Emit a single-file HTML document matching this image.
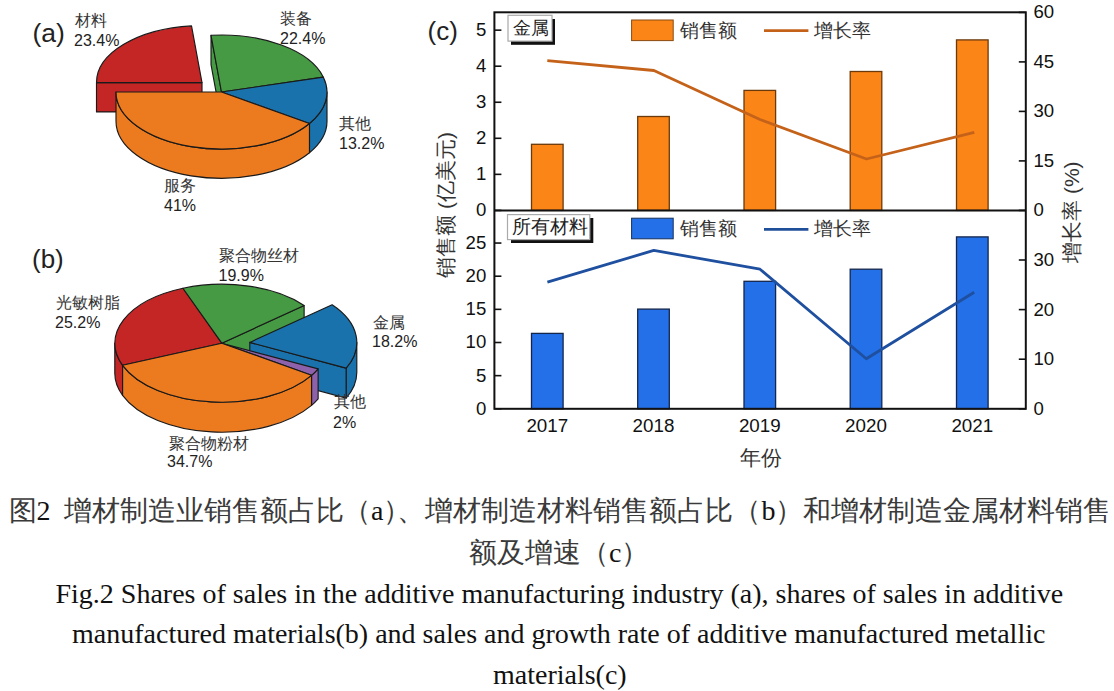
<!DOCTYPE html>
<html><head><meta charset="utf-8"><style>
html,body{margin:0;padding:0;background:#fff;width:1114px;height:691px;overflow:hidden}
svg{position:absolute;left:0;top:0;font-family:"Liberation Sans",sans-serif}
.cap{position:absolute;left:0;width:1114px;font-family:"Liberation Serif",serif;color:#111;white-space:nowrap}
</style></head><body>
<svg width="1114" height="691" viewBox="0 0 1114 691">
<path d="M202.00,82.60 L96.50,82.60 L96.50,111.90 L202.00,111.90 Z" fill="#C42626" stroke="#1a1a1a" stroke-width="1.15" stroke-linejoin="round"/>
<path d="M202.00,82.60 L96.50,82.60 A105.5,57 0 0 1 191.52,25.88 Z" fill="#C42626" stroke="#1a1a1a" stroke-width="1.15" stroke-linejoin="round"/>
<path d="M221.50,92.00 L211.02,35.28 L211.02,64.58 L221.50,121.30 Z" fill="#459A43" stroke="#1a1a1a" stroke-width="1.15" stroke-linejoin="round"/>
<path d="M221.50,92.00 L211.02,35.28 A105.5,57 0 0 1 323.36,77.15 Z" fill="#459A43" stroke="#1a1a1a" stroke-width="1.15" stroke-linejoin="round"/>
<path d="M327.00,92.00 A105.5,57 0 0 1 309.47,123.46 L309.47,152.76 A105.5,57 0 0 0 327.00,121.30 Z" fill="#1A72AD" stroke="#1a1a1a" stroke-width="1.15" stroke-linejoin="round"/>
<path d="M221.50,92.00 L323.36,77.15 A105.5,57 0 0 1 309.47,123.46 Z" fill="#1A72AD" stroke="#1a1a1a" stroke-width="1.15" stroke-linejoin="round"/>
<path d="M309.47,123.46 A105.5,57 0 0 1 116.00,92.00 L116.00,121.30 A105.5,57 0 0 0 309.47,152.76 Z" fill="#EC7A1F" stroke="#1a1a1a" stroke-width="1.15" stroke-linejoin="round"/>
<path d="M221.50,92.00 L309.47,123.46 A105.5,57 0 0 1 116.00,92.00 Z" fill="#EC7A1F" stroke="#1a1a1a" stroke-width="1.15" stroke-linejoin="round"/>
<path d="M122.59,365.30 A107,59 0 0 1 114.80,343.20 L114.80,373.20 A107,59 0 0 0 122.59,395.30 Z" fill="#C42626" stroke="#1a1a1a" stroke-width="1.15" stroke-linejoin="round"/>
<path d="M221.80,343.20 L122.59,365.30 A107,59 0 0 1 182.93,288.23 Z" fill="#C42626" stroke="#1a1a1a" stroke-width="1.15" stroke-linejoin="round"/>
<path d="M221.80,343.20 L304.13,305.51 L304.13,335.51 L221.80,373.20 Z" fill="#459A43" stroke="#1a1a1a" stroke-width="1.15" stroke-linejoin="round"/>
<path d="M221.80,343.20 L182.93,288.23 A107,59 0 0 1 304.13,305.51 Z" fill="#459A43" stroke="#1a1a1a" stroke-width="1.15" stroke-linejoin="round"/>
<path d="M356.80,342.40 A107,59 0 0 1 346.13,368.08 L346.13,398.08 A107,59 0 0 0 356.80,372.40 Z" fill="#1A72AD" stroke="#1a1a1a" stroke-width="1.15" stroke-linejoin="round"/>
<path d="M249.80,342.40 L346.13,368.08 L346.13,398.08 L249.80,372.40 Z" fill="#1A72AD" stroke="#1a1a1a" stroke-width="1.15" stroke-linejoin="round"/>
<path d="M249.80,342.40 L332.13,304.71 A107,59 0 0 1 346.13,368.08 Z" fill="#1A72AD" stroke="#1a1a1a" stroke-width="1.15" stroke-linejoin="round"/>
<path d="M318.13,368.88 A107,59 0 0 1 311.54,375.33 L311.54,405.33 A107,59 0 0 0 318.13,398.88 Z" fill="#8E62AA" stroke="#1a1a1a" stroke-width="1.15" stroke-linejoin="round"/>
<path d="M221.80,343.20 L318.13,368.88 A107,59 0 0 1 311.54,375.33 Z" fill="#8E62AA" stroke="#1a1a1a" stroke-width="1.15" stroke-linejoin="round"/>
<path d="M311.54,375.33 A107,59 0 0 1 122.59,365.30 L122.59,395.30 A107,59 0 0 0 311.54,405.33 Z" fill="#EC7A1F" stroke="#1a1a1a" stroke-width="1.15" stroke-linejoin="round"/>
<path d="M221.80,343.20 L311.54,375.33 A107,59 0 0 1 122.59,365.30 Z" fill="#EC7A1F" stroke="#1a1a1a" stroke-width="1.15" stroke-linejoin="round"/>
<text x="32.5" y="42.2" font-size="26.5" fill="#222" text-anchor="start" >(a)</text>
<text x="75" y="26" font-size="16" fill="#333" text-anchor="start" font-weight="300">材料</text>
<text x="74" y="45.5" font-size="16" fill="#222" text-anchor="start" >23.4%</text>
<text x="280" y="24.3" font-size="16" fill="#333" text-anchor="start" font-weight="300">装备</text>
<text x="280" y="43.6" font-size="16" fill="#222" text-anchor="start" >22.4%</text>
<text x="339" y="129" font-size="16" fill="#333" text-anchor="start" font-weight="300">其他</text>
<text x="339" y="148.7" font-size="16" fill="#222" text-anchor="start" >13.2%</text>
<text x="164" y="190.5" font-size="16" fill="#333" text-anchor="start" font-weight="300">服务</text>
<text x="164" y="210.8" font-size="16" fill="#222" text-anchor="start" >41%</text>
<text x="32" y="268" font-size="26" fill="#222" text-anchor="start" >(b)</text>
<text x="56" y="308" font-size="16" fill="#333" text-anchor="start" font-weight="300">光敏树脂</text>
<text x="55" y="327.6" font-size="16" fill="#222" text-anchor="start" >25.2%</text>
<text x="219" y="261" font-size="16" fill="#333" text-anchor="start" font-weight="300">聚合物丝材</text>
<text x="218.5" y="281.4" font-size="16" fill="#222" text-anchor="start" >19.9%</text>
<text x="372.5" y="327.5" font-size="16" fill="#333" text-anchor="start" font-weight="300">金属</text>
<text x="372" y="347.4" font-size="16" fill="#222" text-anchor="start" >18.2%</text>
<text x="334" y="407" font-size="16" fill="#333" text-anchor="start" font-weight="300">其他</text>
<text x="333" y="427.5" font-size="16" fill="#222" text-anchor="start" >2%</text>
<text x="168.5" y="448.5" font-size="16" fill="#333" text-anchor="start" font-weight="300">聚合物粉材</text>
<text x="167" y="467.2" font-size="16" fill="#222" text-anchor="start" >34.7%</text>
<text x="427.5" y="40" font-size="26" fill="#222" text-anchor="start" >(c)</text>
<rect x="531.50" y="144.3" width="31.6" height="66.10" fill="#FC8517" stroke="#6a3a0c" stroke-width="1.3"/>
<rect x="637.70" y="116.5" width="31.6" height="93.90" fill="#FC8517" stroke="#6a3a0c" stroke-width="1.3"/>
<rect x="744.00" y="90.4" width="31.6" height="120.00" fill="#FC8517" stroke="#6a3a0c" stroke-width="1.3"/>
<rect x="850.20" y="71.5" width="31.6" height="138.90" fill="#FC8517" stroke="#6a3a0c" stroke-width="1.3"/>
<rect x="956.50" y="39.9" width="31.6" height="170.50" fill="#FC8517" stroke="#6a3a0c" stroke-width="1.3"/>
<rect x="531.50" y="333.4" width="31.6" height="75.40" fill="#2470E8" stroke="#14264a" stroke-width="1.3"/>
<rect x="637.70" y="309.1" width="31.6" height="99.70" fill="#2470E8" stroke="#14264a" stroke-width="1.3"/>
<rect x="744.00" y="281.3" width="31.6" height="127.50" fill="#2470E8" stroke="#14264a" stroke-width="1.3"/>
<rect x="850.20" y="269.2" width="31.6" height="139.60" fill="#2470E8" stroke="#14264a" stroke-width="1.3"/>
<rect x="956.50" y="236.9" width="31.6" height="171.90" fill="#2470E8" stroke="#14264a" stroke-width="1.3"/>
<polyline points="547.30,60.70 653.90,70.50 760.00,119.50 866.50,159.00 974.30,132.40" fill="none" stroke="#C5621A" stroke-width="2.8" stroke-linejoin="round"/>
<polyline points="547.40,282.20 653.80,250.40 760.00,269.20 866.30,358.80 974.20,292.30" fill="none" stroke="#1F4F9F" stroke-width="2.8" stroke-linejoin="round"/>
<rect x="494.4" y="12.3" width="531.4" height="396.5" fill="none" stroke="#111" stroke-width="2"/>
<line x1="494.4" y1="210.4" x2="1025.8" y2="210.4" stroke="#111" stroke-width="2"/>
<line x1="494.4" y1="210.40" x2="501.4" y2="210.40" stroke="#111" stroke-width="1.6"/>
<text x="486.3" y="216.3" font-size="18.6" fill="#111" text-anchor="end" >0</text>
<line x1="494.4" y1="174.35" x2="501.4" y2="174.35" stroke="#111" stroke-width="1.6"/>
<text x="486.3" y="180.25000000000003" font-size="18.6" fill="#111" text-anchor="end" >1</text>
<line x1="494.4" y1="138.30" x2="501.4" y2="138.30" stroke="#111" stroke-width="1.6"/>
<text x="486.3" y="144.20000000000002" font-size="18.6" fill="#111" text-anchor="end" >2</text>
<line x1="494.4" y1="102.25" x2="501.4" y2="102.25" stroke="#111" stroke-width="1.6"/>
<text x="486.3" y="108.15000000000002" font-size="18.6" fill="#111" text-anchor="end" >3</text>
<line x1="494.4" y1="66.20" x2="501.4" y2="66.20" stroke="#111" stroke-width="1.6"/>
<text x="486.3" y="72.10000000000002" font-size="18.6" fill="#111" text-anchor="end" >4</text>
<line x1="494.4" y1="30.15" x2="501.4" y2="30.15" stroke="#111" stroke-width="1.6"/>
<text x="486.3" y="36.050000000000004" font-size="18.6" fill="#111" text-anchor="end" >5</text>
<line x1="1018.8" y1="210.40" x2="1025.8" y2="210.40" stroke="#111" stroke-width="1.6"/>
<text x="1033.5" y="216.3" font-size="18.6" fill="#111" text-anchor="start" >0</text>
<line x1="1018.8" y1="160.90" x2="1025.8" y2="160.90" stroke="#111" stroke-width="1.6"/>
<text x="1033.5" y="166.8" font-size="18.6" fill="#111" text-anchor="start" >15</text>
<line x1="1018.8" y1="111.40" x2="1025.8" y2="111.40" stroke="#111" stroke-width="1.6"/>
<text x="1033.5" y="117.30000000000001" font-size="18.6" fill="#111" text-anchor="start" >30</text>
<line x1="1018.8" y1="61.90" x2="1025.8" y2="61.90" stroke="#111" stroke-width="1.6"/>
<text x="1033.5" y="67.80000000000001" font-size="18.6" fill="#111" text-anchor="start" >45</text>
<line x1="1018.8" y1="12.40" x2="1025.8" y2="12.40" stroke="#111" stroke-width="1.6"/>
<text x="1033.5" y="18.300000000000004" font-size="18.6" fill="#111" text-anchor="start" >60</text>
<line x1="494.4" y1="408.80" x2="501.4" y2="408.80" stroke="#111" stroke-width="1.6"/>
<text x="486.3" y="414.7" font-size="18.6" fill="#111" text-anchor="end" >0</text>
<line x1="494.4" y1="375.65" x2="501.4" y2="375.65" stroke="#111" stroke-width="1.6"/>
<text x="486.3" y="381.55" font-size="18.6" fill="#111" text-anchor="end" >5</text>
<line x1="494.4" y1="342.50" x2="501.4" y2="342.50" stroke="#111" stroke-width="1.6"/>
<text x="486.3" y="348.4" font-size="18.6" fill="#111" text-anchor="end" >10</text>
<line x1="494.4" y1="309.35" x2="501.4" y2="309.35" stroke="#111" stroke-width="1.6"/>
<text x="486.3" y="315.25" font-size="18.6" fill="#111" text-anchor="end" >15</text>
<line x1="494.4" y1="276.20" x2="501.4" y2="276.20" stroke="#111" stroke-width="1.6"/>
<text x="486.3" y="282.1" font-size="18.6" fill="#111" text-anchor="end" >20</text>
<line x1="494.4" y1="243.05" x2="501.4" y2="243.05" stroke="#111" stroke-width="1.6"/>
<text x="486.3" y="248.95000000000002" font-size="18.6" fill="#111" text-anchor="end" >25</text>
<line x1="1018.8" y1="408.80" x2="1025.8" y2="408.80" stroke="#111" stroke-width="1.6"/>
<text x="1033.5" y="414.7" font-size="18.6" fill="#111" text-anchor="start" >0</text>
<line x1="1018.8" y1="359.20" x2="1025.8" y2="359.20" stroke="#111" stroke-width="1.6"/>
<text x="1033.5" y="365.09999999999997" font-size="18.6" fill="#111" text-anchor="start" >10</text>
<line x1="1018.8" y1="309.60" x2="1025.8" y2="309.60" stroke="#111" stroke-width="1.6"/>
<text x="1033.5" y="315.5" font-size="18.6" fill="#111" text-anchor="start" >20</text>
<line x1="1018.8" y1="260.00" x2="1025.8" y2="260.00" stroke="#111" stroke-width="1.6"/>
<text x="1033.5" y="265.9" font-size="18.6" fill="#111" text-anchor="start" >30</text>
<text x="547.3" y="432.2" font-size="18.8" fill="#111" text-anchor="middle" >2017</text>
<text x="653.5" y="432.2" font-size="18.8" fill="#111" text-anchor="middle" >2018</text>
<text x="759.8" y="432.2" font-size="18.8" fill="#111" text-anchor="middle" >2019</text>
<text x="866.0" y="432.2" font-size="18.8" fill="#111" text-anchor="middle" >2020</text>
<text x="972.3" y="432.2" font-size="18.8" fill="#111" text-anchor="middle" >2021</text>
<text x="760.5" y="464.5" font-size="20.5" fill="#333" text-anchor="middle" font-weight="300">年份</text>
<text x="0" y="0" font-size="21" fill="#333" text-anchor="middle" font-weight="300" transform="translate(452.5,205) rotate(-90)">销售额 (亿美元)</text>
<text x="0" y="0" font-size="21" fill="#333" text-anchor="middle" font-weight="300" transform="translate(1078.5,212.2) rotate(-90)">增长率 (%)</text>
<rect x="631.6" y="20" width="41.6" height="20.6" fill="#FC8517" stroke="#8a4a10" stroke-width="1"/>
<text x="680" y="37" font-size="18.5" fill="#333" text-anchor="start" font-weight="300">销售额</text>
<line x1="764" y1="30.6" x2="808.4" y2="30.6" stroke="#C5621A" stroke-width="2.6"/>
<text x="814" y="37" font-size="18.5" fill="#333" text-anchor="start" font-weight="300">增长率</text>
<rect x="631.6" y="218.2" width="41.6" height="20.6" fill="#2470E8" stroke="#17305a" stroke-width="1"/>
<text x="680" y="235.2" font-size="18.5" fill="#333" text-anchor="start" font-weight="300">销售额</text>
<line x1="764" y1="229.39999999999998" x2="808.4" y2="229.39999999999998" stroke="#1F4F99" stroke-width="2.6"/>
<text x="814" y="235.2" font-size="18.5" fill="#333" text-anchor="start" font-weight="300">增长率</text>
<rect x="511" y="19" width="44" height="25.8" fill="#111"/>
<rect x="508" y="15.3" width="44" height="25.8" fill="#fff" stroke="#aaa" stroke-width="1.2"/>
<text x="512.5" y="33.6" font-size="17.5" fill="#222" text-anchor="start" font-weight="300">金属</text>
<rect x="511" y="218" width="82.3" height="25" fill="#111"/>
<rect x="507.5" y="214.6" width="82.3" height="25" fill="#fff" stroke="#aaa" stroke-width="1.2"/>
<text x="511.6" y="233.2" font-size="18.5" fill="#222" text-anchor="start" font-weight="300">所有材料</text>
<text font-family="Liberation Serif" fill="#3a3a3a" font-size="28" y="519.5"><tspan x="8.5">图</tspan><tspan fill="#111" x="36.5">2</tspan><tspan x="63.5">增材制造业销售额占比</tspan><tspan x="343">（</tspan><tspan fill="#111" x="371">a</tspan><tspan x="383.4">）</tspan><tspan x="397.4">、</tspan><tspan x="425.4">增材制造材料销售额占比</tspan><tspan x="733.4">（</tspan><tspan fill="#111" x="761.4">b</tspan><tspan x="775.4">）</tspan><tspan x="803.4">和增材制造金属材料销售</tspan></text>
<text font-family="Liberation Serif" fill="#3a3a3a" font-size="28" y="562"><tspan x="469">额及增速</tspan><tspan x="581">（</tspan><tspan fill="#111" x="609">c</tspan><tspan x="621.4">）</tspan></text>
<text font-family="Liberation Serif" fill="#111" font-size="28" x="55.5" y="602.5">Fig.2 Shares of sales in the additive manufacturing industry (a), shares of sales in additive</text>
<text font-family="Liberation Serif" fill="#111" font-size="28" x="72" y="643">manufactured materials(b) and sales and growth rate of additive manufactured metallic</text>
<text font-family="Liberation Serif" fill="#111" font-size="28" x="493" y="684">materials(c)</text>
</svg>
</body></html>
